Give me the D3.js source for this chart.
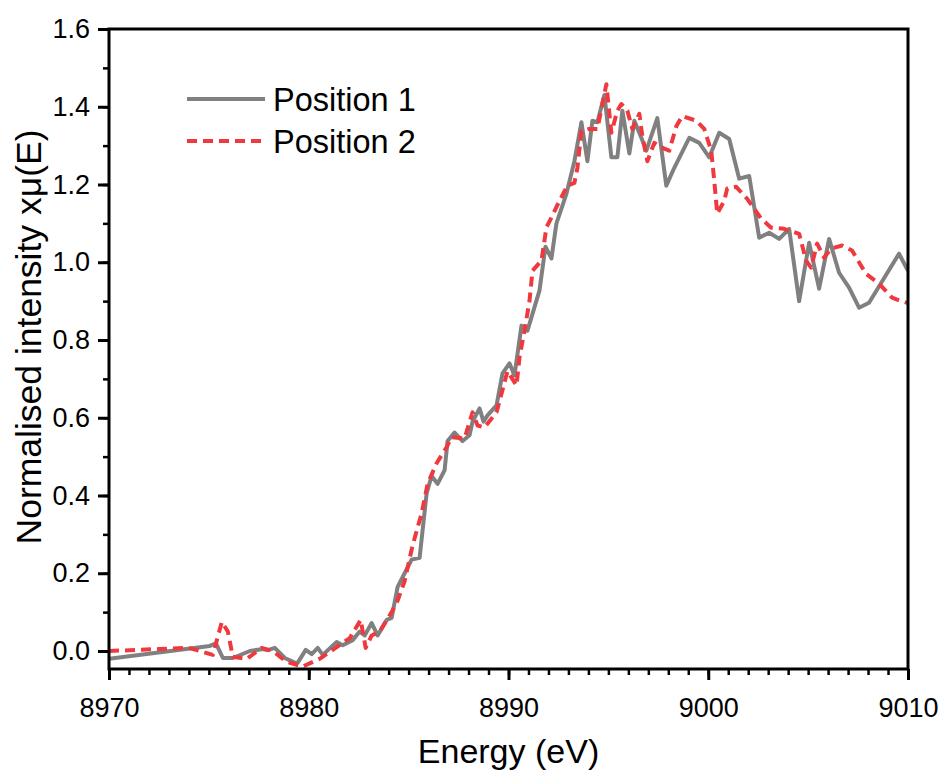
<!DOCTYPE html>
<html>
<head>
<meta charset="utf-8">
<script src="https://cdn.jsdelivr.net/npm/d3@7"></script>
<style>
  html, body { margin: 0; padding: 0; background: #fff; }
  svg text { font-family: "Liberation Sans", Arial, sans-serif; fill: #000; }
</style>
</head>
<body>
<svg id="chart" width="942" height="770"></svg>
<script>
// XANES spectra at two sample positions (energy in eV, normalised absorption)
const energy1 = [8970.0, 8975.05, 8975.35, 8975.7, 8976.2, 8977.05, 8977.7, 8977.95, 8978.3, 8978.8,
  8979.3, 8979.45, 8979.85, 8980.15, 8980.45, 8980.7, 8981.4, 8981.7, 8982.2, 8982.55,
  8982.8, 8983.15, 8983.45, 8983.9, 8984.15, 8984.45, 8984.8, 8985.15, 8985.55, 8985.9,
  8986.15, 8986.45, 8986.8, 8986.95, 8987.3, 8987.7, 8988.05, 8988.2, 8988.55, 8988.75,
  8988.95, 8989.4, 8989.7, 8990.05, 8990.3, 8990.65, 8990.95, 8991.55, 8991.85, 8992.15,
  8992.4, 8992.9, 8993.3, 8993.65, 8993.95, 8994.2, 8994.45, 8994.8, 8995.15, 8995.45,
  8995.7, 8996.05, 8996.3, 8996.65, 8996.9, 8997.45, 8997.9, 8998.3, 8998.65, 8999.05,
  8999.55, 9000.05, 9000.55, 9001.05, 9001.55, 9002.05, 9002.55, 9003.05, 9003.55, 9004.05,
  9004.55, 9005.05, 9005.55, 9006.05, 9006.55, 9007.05, 9007.55, 9008.05, 9009.55, 9010.0];
const mu1 = [-0.02, 0.013, 0.02, -0.018, -0.018, 0.0, 0.005, 0.002, 0.008, -0.018,
  -0.03, -0.03, 0.003, -0.008, 0.008, -0.01, 0.023, 0.015, 0.028, 0.05,
  0.04, 0.072, 0.04, 0.08, 0.085, 0.165, 0.2, 0.235, 0.24, 0.405,
  0.45, 0.43, 0.465, 0.54, 0.562, 0.54, 0.555, 0.59, 0.624, 0.59,
  0.606, 0.632, 0.714, 0.74, 0.709, 0.837, 0.824, 0.927, 1.04, 1.01,
  1.10, 1.176, 1.26, 1.36, 1.26, 1.364, 1.36, 1.43, 1.27, 1.27,
  1.39, 1.28, 1.364, 1.32, 1.287, 1.371, 1.197, 1.243, 1.279, 1.32,
  1.307, 1.27, 1.333, 1.317, 1.215, 1.222, 1.063, 1.076, 1.06, 1.086,
  0.90, 1.05, 0.932, 1.06, 0.973, 0.935, 0.883, 0.896, 1.022, 0.978];

const energy2 = [8970.0, 8972.5, 8974.0, 8975.2, 8975.65, 8975.95, 8976.2, 8976.9, 8977.65, 8978.2,
  8978.9, 8979.7, 8980.55, 8981.2, 8982.05, 8982.6, 8982.85, 8983.15, 8983.55, 8984.15,
  8984.45, 8984.8, 8985.2, 8985.65, 8985.95, 8986.4, 8986.9, 8987.15, 8987.8, 8988.2,
  8988.45, 8988.8, 8989.4, 8989.65, 8989.95, 8990.4, 8990.55, 8990.8, 8991.05, 8991.2,
  8991.65, 8991.9, 8992.15, 8992.55, 8992.95, 8993.3, 8993.45, 8993.65, 8994.05, 8994.45,
  8994.7, 8994.9, 8995.15, 8995.45, 8995.65, 8995.95, 8996.2, 8996.55, 8996.7, 8996.95,
  8997.3, 8997.8, 8998.05, 8998.4, 8998.7, 8999.4, 8999.8, 9000.15, 9000.3, 9000.45,
  9000.8, 9000.95, 9001.4, 9001.95, 9002.65, 9003.15, 9003.8, 9004.55, 9004.9, 9005.15,
  9005.45, 9005.8, 9006.15, 9006.7, 9007.2, 9007.9, 9008.55, 9009.2, 9009.65, 9010.0];
const mu2 = [0.0, 0.005, 0.008, -0.01, 0.075, 0.05, -0.015, -0.02, 0.008, 0.0,
  -0.028, -0.04, -0.02, 0.003, 0.033, 0.08, 0.008, 0.04, 0.05, 0.1,
  0.13, 0.18, 0.272, 0.354, 0.43, 0.483, 0.524, 0.55, 0.547, 0.614,
  0.58, 0.575, 0.614, 0.662, 0.72, 0.683, 0.755, 0.824, 0.90, 0.978,
  1.004, 1.09, 1.115, 1.158, 1.197, 1.204, 1.243, 1.338, 1.343, 1.343,
  1.407, 1.458, 1.333, 1.39, 1.407, 1.39, 1.343, 1.382, 1.325, 1.26,
  1.307, 1.292, 1.287, 1.35, 1.376, 1.364, 1.343, 1.287, 1.21, 1.125,
  1.158, 1.19, 1.194, 1.163, 1.112, 1.089, 1.086, 1.073, 1.004, 0.986,
  1.048, 1.012, 1.035, 1.043, 1.03, 0.97, 0.945, 0.909, 0.90, 0.895];

const seriesNames = ["Position 1", "Position 2"];
const xTicks = [8970, 8980, 8990, 9000, 9010];
const yTicks = [0.0, 0.2, 0.4, 0.6, 0.8, 1.0, 1.2, 1.4, 1.6];
const xTitle = "Energy (eV)";
const yTitle = "Normalised intensity xμ(E)";

const svg = d3.select("#chart");
const plotLeft = 109, plotRight = 908, plotTop = 29, plotBottom = 669;

const x = d3.scaleLinear().domain([8970, 9010]).range([plotLeft, plotRight]);
const y = d3.scaleLinear().domain([0, 1.6]).range([651, plotTop]);

const font = '"Liberation Sans", Arial, sans-serif';

// clip lines to the plotting frame
svg.append("clipPath").attr("id", "plotClip")
  .append("rect").attr("x", plotLeft).attr("y", plotTop)
  .attr("width", plotRight - plotLeft).attr("height", plotBottom - plotTop);

const line = d3.line().x(d => x(d[0])).y(d => y(d[1]));
const d1 = energy1.map((e, i) => [e, mu1[i]]);
const d2 = energy2.map((e, i) => [e, mu2[i]]);

const plot = svg.append("g").attr("clip-path", "url(#plotClip)");
plot.append("path").datum(d1).attr("d", line)
  .attr("fill", "none").attr("stroke", "#808080").attr("stroke-width", 4)
  .attr("stroke-linejoin", "round");
plot.append("path").datum(d2).attr("d", line)
  .attr("fill", "none").attr("stroke", "#f0383f").attr("stroke-width", 4)
  .attr("stroke-dasharray", "10,6").attr("stroke-linejoin", "round");

// bottom axis: major ticks every 10 eV, minor every 1 eV
const xMinor = svg.append("g").attr("transform", `translate(0,${plotBottom})`);
xMinor.call(d3.axisBottom(x).tickValues(d3.range(8970, 9010.5, 1)).tickSize(6).tickFormat(""));
xMinor.selectAll(".tick line").attr("stroke-width", 2.5);
const xMajor = svg.append("g").attr("transform", `translate(0,${plotBottom})`);
xMajor.call(d3.axisBottom(x).tickValues(xTicks).tickSize(11).tickPadding(18).tickFormat(d3.format("d")));
xMajor.selectAll(".tick line").attr("stroke-width", 3);
xMajor.selectAll(".tick text").attr("font-size", 27).attr("font-family", font).attr("fill", "#000");

// left axis: major ticks every 0.2, minor every 0.1
const yMinor = svg.append("g").attr("transform", `translate(${plotLeft},0)`);
yMinor.call(d3.axisLeft(y).tickValues(d3.range(0, 1.65, 0.1)).tickSize(6).tickFormat(""));
yMinor.selectAll(".tick line").attr("stroke-width", 2.5);
const yMajor = svg.append("g").attr("transform", `translate(${plotLeft},0)`);
yMajor.call(d3.axisLeft(y).tickValues(yTicks).tickSize(11).tickPadding(8).tickFormat(d3.format(".1f")));
yMajor.selectAll(".tick line").attr("stroke-width", 3);
yMajor.selectAll(".tick text").attr("font-size", 27).attr("font-family", font).attr("fill", "#000");
svg.selectAll(".domain").remove();

// frame
svg.append("rect").attr("x", plotLeft).attr("y", plotTop)
  .attr("width", plotRight - plotLeft).attr("height", plotBottom - plotTop)
  .attr("fill", "none").attr("stroke", "#000").attr("stroke-width", 3);

// axis titles
svg.append("text").attr("x", (plotLeft + plotRight) / 2).attr("y", 763)
  .attr("text-anchor", "middle").attr("font-size", 34).text(xTitle);
svg.append("text").attr("transform", "translate(41,337) rotate(-90)")
  .attr("text-anchor", "middle").attr("font-size", 35.5).text(yTitle);

// legend
const legend = svg.append("g");
const legendRows = [
  { name: seriesNames[0], color: "#808080", dash: null, ly: 99 },
  { name: seriesNames[1], color: "#f0383f", dash: "10,6", ly: 141 }
];
legendRows.forEach(r => {
  legend.append("line").attr("x1", 187).attr("x2", 265).attr("y1", r.ly).attr("y2", r.ly)
    .attr("stroke", r.color).attr("stroke-width", 4)
    .attr("stroke-dasharray", r.dash);
  legend.append("text").attr("x", 273).attr("y", r.ly + 12)
    .attr("font-size", 32.5).text(r.name);
});
</script>
</body>
</html>
